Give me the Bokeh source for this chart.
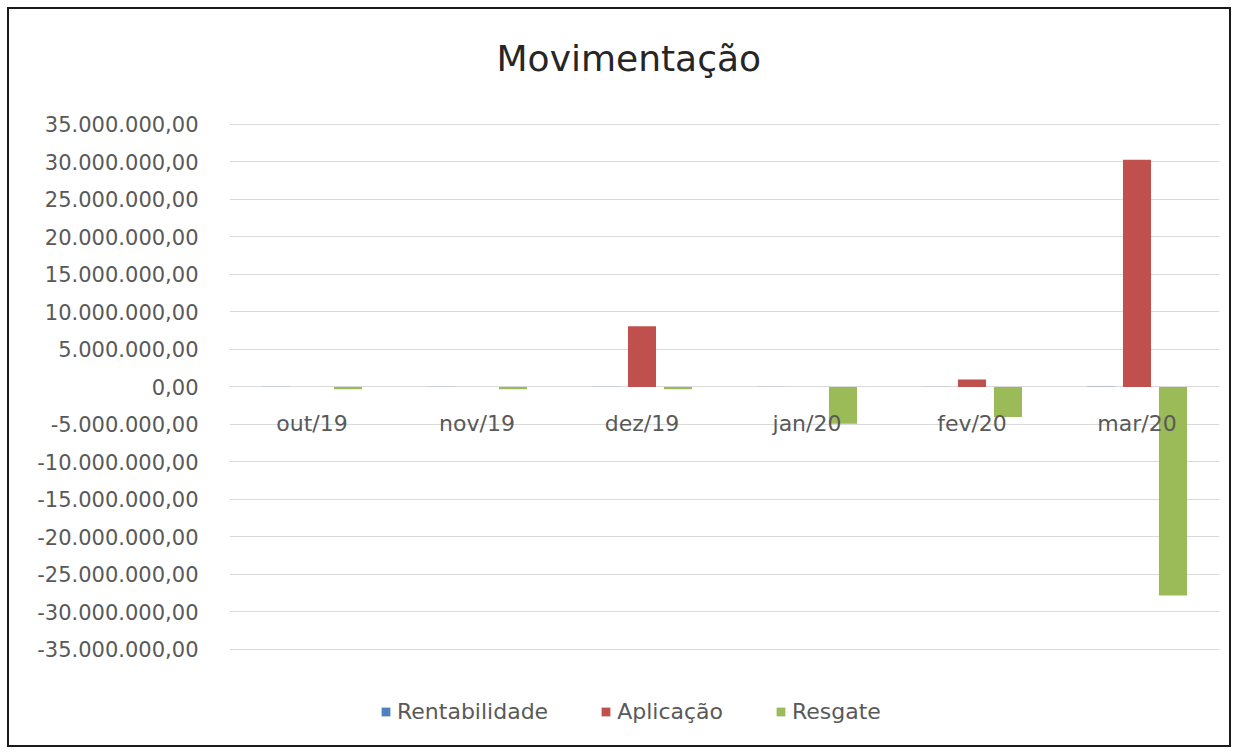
from bokeh.plotting import figure
from bokeh.models import (FactorRange, Range1d, FixedTicker, CustomJSTickFormatter,
                          Legend, LegendItem, ColumnDataSource, Label)
from bokeh.core.properties import value
from bokeh.transform import dodge
from bokeh.embed import file_html
from bokeh.resources import INLINE

months = ["out/19", "nov/19", "dez/19", "jan/20", "fev/20", "mar/20"]
rentabilidade = [15000, 14000, 16000, 12000, 10000, 20000]
aplicacao = [0, 0, 8100000, 0, 1000000, 30300000]
resgate = [-300000, -300000, -300000, -4900000, -4000000, -27800000]
y_ticks = [-35000000, -30000000, -25000000, -20000000, -15000000, -10000000, -5000000, 0,
           5000000, 10000000, 15000000, 20000000, 25000000, 30000000, 35000000]
title_text = "Movimentação"

FONT = "DejaVu Sans"

source = ColumnDataSource(dict(months=months, rent=rentabilidade, apl=aplicacao, resg=resgate))

# the plot frame spans the full height so that title and legend live inside it
p = figure(frame_width=990, frame_height=736, x_range=FactorRange(*months),
           y_range=Range1d(-47800000, 50330000),
           output_backend="svg", toolbar_location=None,
           min_border_left=220, min_border_right=10, min_border_top=0, min_border_bottom=0)

p.styles = {"border": "2px solid #1a1a1a", "margin": "7px 0 0 7px"}
p.background_fill_color = "white"
p.border_fill_color = "white"
p.outline_line_color = None

# chart title
p.add_layout(Label(x=2.42, y=43800000, text=title_text, text_font=FONT,
                   text_font_size="36px", text_color="#262626",
                   text_align="center", text_baseline="middle"))

w = 0.17
off = 0.218
r1 = p.vbar(x=dodge("months", -off, range=p.x_range), top="rent", bottom=0, width=w,
            source=source, fill_color="#4f81bd", line_color=None)
r2 = p.vbar(x=dodge("months", 0.0, range=p.x_range), top="apl", bottom=0, width=w,
            source=source, fill_color="#c0504d", line_color=None)
r3 = p.vbar(x=dodge("months", off, range=p.x_range), top="resg", bottom=0, width=w,
            source=source, fill_color="#9bbb59", line_color=None)

# category labels sitting just under the zero line
p.text(x="months", y=0, text="months", source=source,
       text_font=value(FONT), text_font_size="22px", text_color="#595959",
       text_align="center", text_baseline="middle", y_offset=37)

ticker = FixedTicker(ticks=y_ticks)
p.yaxis.ticker = ticker
p.ygrid.ticker = ticker
p.ygrid.grid_line_color = "#d9d9d9"
p.ygrid.grid_line_width = 1
p.xgrid.visible = False

p.yaxis.formatter = CustomJSTickFormatter(code="""
const neg = tick < 0;
let s = Math.round(Math.abs(tick)).toString();
s = s.replace(/\\B(?=(\\d{3})+(?!\\d))/g, ".");
return (neg ? "-" : "") + s + ",00";
""")
p.yaxis.axis_line_color = None
p.yaxis.major_tick_line_color = None
p.yaxis.minor_tick_line_color = None
p.yaxis.major_label_text_font = FONT
p.yaxis.major_label_text_font_size = "21px"
p.yaxis.major_label_text_color = "#595959"
p.yaxis.major_label_standoff = 25

p.xaxis.visible = False

legend = Legend(items=[LegendItem(label="Rentabilidade", renderers=[r1]),
                       LegendItem(label="Aplicação", renderers=[r2]),
                       LegendItem(label="Resgate", renderers=[r3])],
                orientation="horizontal", location=(151, 21),
                border_line_color=None, background_fill_alpha=0,
                margin=0, padding=4,
                label_text_font=FONT, label_text_font_size="22px",
                label_text_color="#595959",
                glyph_width=11, glyph_height=11, spacing=52, label_standoff=6)
p.add_layout(legend, "center")

open("out.html", "w").write(file_html(p, INLINE))
